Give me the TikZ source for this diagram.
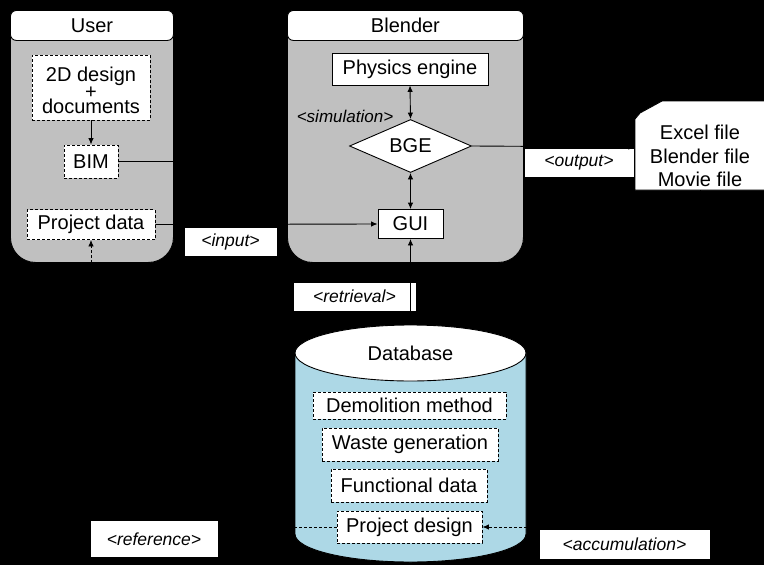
\documentclass[tikz,border=0pt]{standalone}
\usepackage{fontspec}
\setmainfont{Liberation Sans}
\usetikzlibrary{arrows.meta,shapes.geometric}
\definecolor{boxgray}{RGB}{192,192,192}
\definecolor{dbblue}{RGB}{173,216,230}
\tikzset{
  every node/.style={font=\fontsize{20}{24}\selectfont, inner sep=0pt},
  container/.style={anchor=north west, draw=black, fill=boxgray, rounded corners=25pt, line width=0.9pt},
  header/.style={anchor=north west, draw=black, fill=white, rounded corners=6pt, minimum height=30pt, line width=0.9pt},
  solidbox/.style={draw=black, fill=white, line width=0.9pt},
  dashbox/.style={draw=black, fill=white, line width=0.9pt, dash pattern=on 3pt off 2pt},
  lbl/.style={draw=black, fill=white, line width=0.5pt, font=\itshape\fontsize{17.5}{20}\selectfont},
  conn/.style={draw=black, line width=0.9pt},
  arr/.style={conn, -{Latex[length=6.5pt,width=5.5pt]}},
  darr/.style={conn, {Latex[length=6.5pt,width=5.5pt]}-{Latex[length=6.5pt,width=5.5pt]}},
  dasharr/.style={arr, dash pattern=on 3pt off 2pt},
}
\begin{document}
\begin{tikzpicture}[x=1pt,y=-1pt]
\useasboundingbox (0,0) rectangle (764,565);
\fill[black] (0,0) rectangle (764,565);

% containers
\node[container, minimum width=163pt, minimum height=252pt] (userbody) at (10,10) {};
\node[header, minimum width=163pt] (userhdr) at (10,10) {User};
\node[container, minimum width=236pt, minimum height=252pt] (blendbody) at (287,10) {};
\node[header, minimum width=236pt] (blendhdr) at (287,10) {Blender};

% user items
\node[dashbox, minimum width=118pt, minimum height=65pt] (design) at (91,87.5) {};
\node[align=center, font=\fontsize{20}{15.5}\selectfont] (designtxt) at (91,90.5) {2D design\\+\\documents};
\node[dashbox, minimum width=54pt, minimum height=33pt] (bim) at (91,161.5) {BIM};
\node[dashbox, minimum width=128pt, minimum height=30pt] (pdata) at (91,224.5) {Project data};

% blender items
\node[solidbox, minimum width=156pt, minimum height=32pt] (phys) at (410,69) {Physics engine};
\node[solidbox, diamond, aspect=2.3, minimum width=122pt, minimum height=53pt] (bge) at (410.5,146) {BGE};
\node[solidbox, minimum width=65pt, minimum height=29pt] (gui) at (410.5,224) {GUI};
\node[font=\itshape\fontsize{17}{20}\selectfont] (sim) at (345,116) {<simulation>};

% output documents
\path[draw=black, fill=white, line width=0.9pt] (635,190) -- (635,119) -- (640,113) -- (662,101) -- (770,101) -- (770,190) -- cycle;
\node[align=center, font=\fontsize{20}{23.5}\selectfont] (docs) at (700,156) {Excel file\\Blender file\\Movie file};
\coordinate (docsin) at (635,147);
\coordinate (docsout) at (700,190);

% database
\path[draw=black, fill=dbblue, line width=0.9pt] (295,353) -- (295,534) arc[start angle=180, end angle=360, x radius=115.5pt, y radius=28pt] -- (526,353) -- cycle;
\path[draw=black, fill=white, line width=0.9pt] (410.5,353) ellipse [x radius=115.5pt, y radius=28pt];
\node (db) at (410.5,353) {Database};
\coordinate (dbtop) at (410.5,325);
\node[dashbox, minimum width=193pt, minimum height=27pt] (demol) at (409.5,405.5) {Demolition method};
\node[dashbox, minimum width=176pt, minimum height=33pt] (waste) at (410,444.5) {Waste generation};
\node[dashbox, minimum width=156pt, minimum height=33pt] (func) at (409,485.5) {Functional data};
\node[dashbox, minimum width=145pt, minimum height=32pt] (pdesign) at (409.5,527) {Project design};

% labels
\node[lbl, minimum width=93pt, minimum height=29pt] (linput) at (230.5,241.5) {<input>};
\node[lbl, minimum width=123pt, minimum height=29pt] (lretr) at (354.5,296.5) {<retrieval>};
\node[lbl, minimum width=110pt, minimum height=29pt] (lout) at (579,162.5) {<output>};
\node[lbl, minimum width=171pt, minimum height=30pt] (lacc) at (624.5,544) {<accumulation>};

% connectors
\coordinate (join) at (180,224.5);
\draw[arr] (design.south) -- (bim.north);
\draw[conn] (bim.east) -| (join);
\draw[arr] (pdata.east) -- (gui.west);
\draw[darr] (phys.south) -- (bge.north);
\draw[darr] (bge.south) -- (gui.north);
\draw[arr] (bge.east) -- (docsin);
\draw[arr] (dbtop) -- (gui.south);
\draw[dasharr] (pdesign.west) -| (pdata.south);
\draw[dasharr] (docsout) |- (pdesign.east);

\node[lbl, minimum width=128pt, minimum height=37pt] (lref) at (154,539) {<reference>};
\end{tikzpicture}
\end{document}
